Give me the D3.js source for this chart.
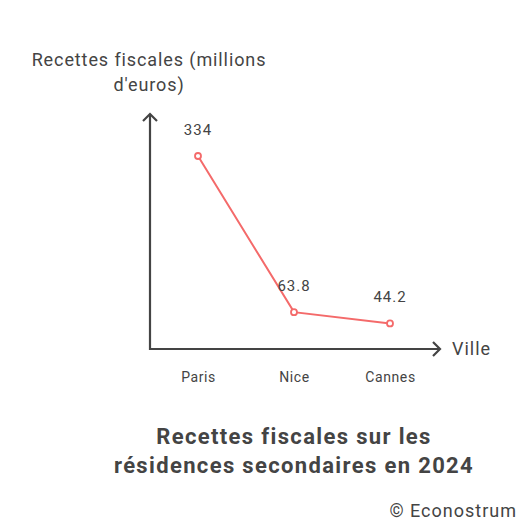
<!DOCTYPE html>
<html>
<head>
<meta charset="utf-8">
<script src="https://cdn.jsdelivr.net/npm/d3@7"></script>
<style>
  body { margin: 0; background: #fff; }
  svg { display: block; font-family: Roboto, "Noto Sans", sans-serif; }
</style>
</head>
<body>
<svg></svg>
<script>
const cities = ['Paris', 'Nice', 'Cannes'];
const recettes = [334, 63.8, 44.2];
const valueLabels = ['334', '63.8', '44.2'];

const width = 532;
const height = 528;
const textColor = '#444';
const lineColor = '#f46a6a';

const svg = d3.select('svg')
    .attr('width', width)
    .attr('height', height)

const data = cities.map((c, i) => ({ city: c, value: recettes[i], label: valueLabels[i] }));

// x positions for the three cities
const x = d3.scalePoint()
    .domain(cities)
    .range([198, 390])

const y = d3.scaleLinear()
    .domain([0, d3.max(recettes)])
    .range([349, 156])

// axes drawn as plain lines with arrow heads
const axisColor = '#444';
svg.append('path')
    .attr('d', 'M150,114 L150,349 L440,349')
    .attr('fill', 'none')
    .attr('stroke', axisColor)
    .attr('stroke-width', 2.2)

svg.append('path')
    .attr('d', 'M143,121 L150,114 L157,121')
    .attr('fill', 'none')
    .attr('stroke', axisColor)
    .attr('stroke-width', 2.2)

svg.append('path')
    .attr('d', 'M433,342 L440,349 L433,356')
    .attr('fill', 'none')
    .attr('stroke', axisColor)
    .attr('stroke-width', 2.2)

// category labels via a bottom axis, with the domain and ticks hidden
const xAxis = svg.append('g')
    .attr('transform', 'translate(0,349)')
    .call(d3.axisBottom(x).tickSize(0).tickPadding(23))
xAxis.select('.domain').remove()
xAxis.selectAll('text')
    .attr('font-family', 'Roboto, sans-serif')
    .attr('font-size', 14)
    .attr('letter-spacing', 0.6)
    .attr('fill', textColor)

svg.append('text')
    .attr('x', 452)
    .attr('y', 355)
    .attr('font-size', 18)
    .attr('letter-spacing', 1)
    .attr('fill', textColor)
    .text('Ville')

const yTitle = svg.append('text')
    .attr('text-anchor', 'middle')
    .attr('font-size', 18)
    .attr('letter-spacing', 0.9)
    .attr('fill', textColor)
yTitle.append('tspan').attr('x', 149).attr('y', 66).text('Recettes fiscales (millions')
yTitle.append('tspan').attr('x', 149).attr('y', 91).text("d'euros)")

const line = d3.line()
    .x(d => x(d.city))
    .y(d => y(d.value))

svg.append('path')
    .datum(data)
    .attr('d', line)
    .attr('fill', 'none')
    .attr('stroke', lineColor)
    .attr('stroke-width', 2)

svg.selectAll('circle.pt')
    .data(data)
    .enter()
    .append('circle')
    .attr('class', 'pt')
    .attr('cx', d => x(d.city))
    .attr('cy', d => y(d.value))
    .attr('r', 3)
    .attr('fill', '#fff')
    .attr('stroke', lineColor)
    .attr('stroke-width', 1.8)

svg.selectAll('text.val')
    .data(data)
    .enter()
    .append('text')
    .attr('class', 'val')
    .attr('x', d => x(d.city))
    .attr('y', d => y(d.value) - 21)
    .attr('text-anchor', 'middle')
    .attr('font-size', 15)
    .attr('letter-spacing', 1)
    .attr('fill', textColor)
    .text(d => d.label)

const title = svg.append('text')
    .attr('text-anchor', 'middle')
    .attr('font-size', 22)
    .attr('font-weight', 'bold')
    .attr('letter-spacing', 1.35)
    .attr('fill', textColor)
title.append('tspan').attr('x', 294).attr('y', 444).text('Recettes fiscales sur les')
title.append('tspan').attr('x', 294).attr('y', 473).text('résidences secondaires en 2024')

svg.append('text')
    .attr('x', 517)
    .attr('y', 517)
    .attr('text-anchor', 'end')
    .attr('font-size', 18)
    .attr('letter-spacing', 1)
    .attr('fill', textColor)
    .text('© Econostrum')
</script>
</body>
</html>
